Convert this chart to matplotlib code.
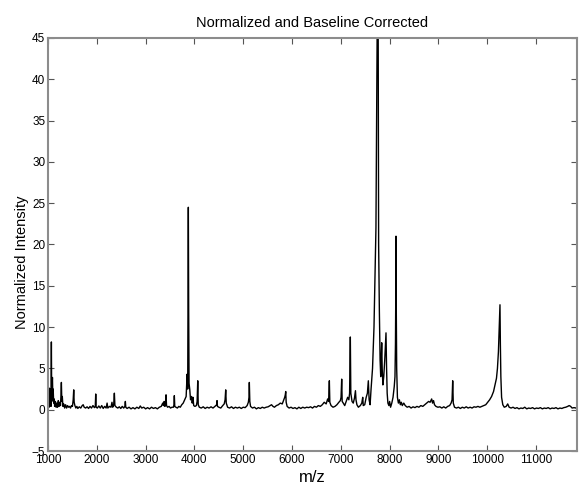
import matplotlib.pyplot as plt

plt.rcParams['font.family'] = ['Liberation Sans', 'DejaVu Sans']

# spectrum trace (m/z, intensity)
mz = [1000, 1010, 1020, 1030, 1040, 1050, 1060, 1068, 1075, 1082, 1090, 1098, 1105, 1115, 1125,
      1135, 1150, 1165, 1180, 1195, 1210, 1225, 1240, 1255, 1265, 1273, 1282, 1292, 1305, 1320,
      1340, 1360, 1380, 1400, 1420, 1440, 1460, 1480, 1500, 1515, 1526, 1535, 1550, 1570, 1590,
      1610, 1640, 1670, 1700, 1720, 1740, 1770, 1800, 1830, 1860, 1890, 1920, 1950, 1968, 1977,
      1986, 2010, 2040, 2070, 2100, 2130, 2160, 2190, 2210, 2225, 2260, 2290, 2310, 2325, 2345,
      2359, 2370, 2400, 2430, 2460, 2490, 2520, 2550, 2575, 2584, 2593, 2620, 2660, 2700, 2740,
      2780, 2820, 2860, 2890, 2920, 2960, 3000, 3040, 3080, 3120, 3160, 3200, 3240, 3280, 3320,
      3350, 3365, 3380, 3395, 3410, 3418, 3428, 3450, 3480, 3510, 3540, 3570, 3580, 3588, 3597,
      3620, 3650, 3680, 3710, 3740, 3770, 3800, 3830, 3850, 3862, 3868, 3875, 3882, 3890, 3905,
      3920, 3940, 3955, 3970, 3985, 4010, 4040, 4055, 4068, 4078, 4100, 4140, 4180, 4220, 4260,
      4300, 4340, 4380, 4420, 4455, 4463, 4472, 4500, 4540, 4580, 4610, 4628, 4641, 4652, 4680,
      4720, 4760, 4800, 4840, 4880, 4920, 4960, 5000, 5040, 5080, 5105, 5118, 5125, 5135, 5150,
      5190, 5230, 5270, 5310, 5350, 5390, 5430, 5470, 5510, 5550, 5580, 5610, 5640, 5680, 5720,
      5760, 5800, 5830, 5850, 5862, 5871, 5880, 5900, 5940, 5980, 6020, 6060, 6100, 6140, 6180,
      6220, 6260, 6300, 6340, 6380, 6420, 6460, 6500, 6540, 6580, 6620, 6660, 6700, 6730, 6750,
      6765, 6775, 6800, 6840, 6880, 6920, 6960, 6990, 7005, 7018, 7028, 7050, 7080, 7110, 7140,
      7165, 7180, 7195, 7205, 7230, 7255, 7280, 7300, 7311, 7330, 7360, 7400, 7430, 7449, 7460,
      7490, 7520, 7545, 7564, 7580, 7600, 7620, 7650, 7680, 7700, 7720, 7735, 7745, 7756, 7765,
      7775, 7790, 7805, 7818, 7830, 7838, 7848, 7862, 7880, 7900, 7915, 7926, 7938, 7950, 7965,
      7985, 8000, 8020, 8045, 8070, 8095, 8110, 8120, 8126, 8131, 8137, 8145, 8160, 8180, 8200,
      8220, 8240, 8260, 8290, 8320, 8360, 8400, 8440, 8480, 8520, 8560, 8600, 8640, 8680, 8720,
      8760, 8800, 8830, 8862, 8880, 8900, 8920, 8950, 8990, 9030, 9070, 9110, 9150, 9190, 9230,
      9260, 9280, 9293, 9305, 9330, 9370, 9410, 9450, 9490, 9530, 9570, 9610, 9650, 9690, 9730,
      9770, 9810, 9850, 9890, 9930, 9970, 10010, 10050, 10090, 10130, 10160, 10190, 10210, 10230, 10245,
      10255, 10262, 10270, 10280, 10295, 10320, 10350, 10390, 10420, 10450, 10490, 10530, 10570, 10610, 10650,
      10690, 10730, 10770, 10810, 10850, 10890, 10930, 10970, 11010, 11050, 11090, 11130, 11170, 11210, 11250,
      11290, 11330, 11370, 11410, 11450, 11490, 11530, 11570, 11610, 11650, 11680, 11710, 11740, 11780, 11820,
      11840]

intensity = [0.5, 1.4, 0.3, 2.6, 0.5, 1.2, 0.4, 8.2, 1.0, 2.9, 3.9, 1.5, 2.5, 0.8, 1.3,
             0.4, 1.0, 0.3, 0.8, 0.3, 1.1, 0.4, 0.9, 0.5, 1.8, 3.3, 1.0, 1.6, 0.4, 0.7,
             0.2, 0.6, 0.2, 0.5, 0.3, 0.4, 0.2, 0.5, 0.4, 1.2, 2.4, 0.9, 0.5, 0.2, 0.4,
             0.15, 0.35, 0.2, 0.5, 0.6, 0.3, 0.2, 0.35, 0.15, 0.4, 0.2, 0.5, 0.25, 0.4, 1.9,
             0.3, 0.2, 0.45, 0.2, 0.5, 0.15, 0.4, 0.2, 0.8, 0.2, 0.4, 0.3, 0.9, 0.3, 0.6,
             2.0, 0.5, 0.3, 0.2, 0.35, 0.15, 0.4, 0.2, 0.4, 1.0, 0.3, 0.15, 0.3, 0.1, 0.25,
             0.1, 0.3, 0.15, 0.45, 0.2, 0.3, 0.1, 0.25, 0.1, 0.3, 0.15, 0.25, 0.1, 0.3, 0.4,
             0.8, 0.5, 1.0, 0.4, 0.9, 1.8, 0.5, 0.3, 0.4, 0.2, 0.3, 0.3, 0.6, 1.7, 0.4,
             0.3, 0.2, 0.4, 0.3, 0.6, 0.8, 1.2, 1.6, 4.3, 2.5, 13.3, 24.5, 12.0, 3.2, 2.4,
             1.2, 1.6, 0.8, 1.5, 0.5, 0.4, 0.5, 1.0, 3.5, 0.6, 0.3, 0.2, 0.35, 0.15, 0.3,
             0.2, 0.35, 0.2, 0.4, 0.6, 1.1, 0.4, 0.3, 0.2, 0.5, 0.7, 1.2, 2.4, 0.8, 0.3,
             0.2, 0.35, 0.15, 0.3, 0.2, 0.3, 0.15, 0.3, 0.25, 0.5, 0.9, 1.5, 3.3, 1.0, 0.4,
             0.2, 0.3, 0.1, 0.25, 0.15, 0.3, 0.2, 0.3, 0.35, 0.5, 0.6, 0.4, 0.3, 0.5, 0.6,
             0.8, 0.7, 1.2, 1.5, 1.8, 2.2, 0.9, 0.4, 0.2, 0.3, 0.15, 0.25, 0.1, 0.3, 0.15,
             0.3, 0.2, 0.3, 0.25, 0.35, 0.2, 0.4, 0.3, 0.5, 0.4, 0.6, 0.9, 0.7, 1.3, 1.0,
             3.5, 0.9, 0.5, 0.3, 0.4, 0.6, 0.9, 1.1, 1.5, 3.7, 1.0, 0.8, 0.5, 1.0, 1.5,
             1.2, 2.0, 8.8, 2.0, 1.0, 0.8, 1.4, 2.3, 1.2, 0.6, 0.3, 0.5, 0.8, 1.5, 0.5,
             0.6, 1.5, 2.0, 3.5, 1.2, 0.6, 2.5, 5.0, 10.0, 16.0, 22.0, 36.0, 44.0, 60.0, 48.0,
             20.0, 12.0, 6.0, 4.0, 6.5, 8.1, 5.0, 3.0, 4.0, 6.0, 8.0, 9.3, 5.0, 2.0, 0.8,
             0.5, 1.0, 0.3, 0.8, 1.5, 2.8, 4.0, 8.0, 13.5, 21.0, 12.0, 5.0, 1.5, 0.8, 1.2,
             0.6, 0.9, 0.5, 0.8, 0.5, 0.3, 0.4, 0.2, 0.35, 0.25, 0.4, 0.3, 0.5, 0.4, 0.6,
             0.8, 1.0, 0.9, 1.3, 0.8, 1.1, 0.6, 0.4, 0.3, 0.35, 0.2, 0.35, 0.2, 0.4, 0.5,
             0.8, 1.2, 3.5, 0.8, 0.3, 0.2, 0.3, 0.15, 0.3, 0.2, 0.35, 0.2, 0.3, 0.2, 0.35,
             0.3, 0.4, 0.3, 0.4, 0.5, 0.6, 0.9, 1.2, 1.6, 2.2, 3.0, 3.8, 5.0, 7.0, 9.5,
             11.0, 12.7, 8.0, 4.0, 1.5, 0.6, 0.3, 0.4, 0.7, 0.3, 0.2, 0.3, 0.15, 0.25, 0.1,
             0.2, 0.15, 0.3, 0.1, 0.2, 0.15, 0.25, 0.1, 0.2, 0.15, 0.25, 0.1, 0.2, 0.15, 0.25,
             0.1, 0.2, 0.15, 0.25, 0.1, 0.2, 0.15, 0.25, 0.3, 0.4, 0.5, 0.4, 0.2, 0.25, 0.2,
             0.3]

x_ticks = [1000, 2000, 3000, 4000, 5000, 6000, 7000, 8000, 9000, 10000, 11000]
y_ticks = [-5, 0, 5, 10, 15, 20, 25, 30, 35, 40, 45]

fig = plt.figure(figsize=(5.79, 4.86), dpi=100)
ax = fig.add_axes([0.083, 0.072, 0.9135, 0.85])

ax.plot(mz, intensity, color='black', linewidth=1.0)

ax.set_xlim(1000, 11840)
ax.set_ylim(-5, 45)
ax.set_xticks(x_ticks)
ax.set_yticks(y_ticks)

# matlab-ish box: grey frame, ticks pointing in on all four sides
for s in ax.spines.values():
    s.set_color('#8c8c8c')
    s.set_linewidth(1.5)
ax.tick_params(direction='in', length=4, width=0.8, color='#555555',
               top=True, right=True, labelsize=8.5, pad=2)

ax.set_title('Normalized and Baseline Corrected', fontsize=10.5, pad=8)
ax.set_xlabel('m/z', fontsize=12, labelpad=3)
ax.set_ylabel('Normalized Intensity', fontsize=10.5)
ax.yaxis.set_label_coords(-0.036, 0.458)

fig.savefig('out.png', dpi=100)
